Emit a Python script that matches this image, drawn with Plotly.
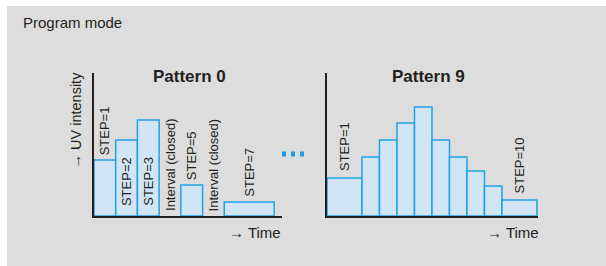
import plotly.graph_objects as go
import numpy as np

W, H = 606, 266

# ---- data ----
p0_labels = ["STEP=1", "STEP=2", "STEP=3", "Interval (closed)", "STEP=5", "Interval (closed)", "STEP=7"]
p0_durations = [1, 1, 1, 1, 1, 1, 2.3]
p0_intensity = [56, 76, 96, None, 31, None, 14]

p9_labels = ["STEP=1", "", "", "", "", "", "", "", "", "STEP=10"]
p9_durations = [2, 1, 1, 1, 1, 1, 1, 1, 1, 2]
p9_intensity = [38, 59, 76, 93, 109, 76, 59, 45, 30, 16]

FILL = "#d2e5f6"
EDGE = "#1fa3e6"
AXIS = "#231f20"
BG = "#dcdddc"
FONT = "Liberation Sans, Arial, sans-serif"


def px(x):
    return x / W


def py(y):
    return 1 - y / H


def centers(durs):
    d = np.array(durs, dtype=float)
    right = np.cumsum(d)
    return (right - d / 2).tolist()


fig = go.Figure()

c0 = centers(p0_durations)
c9 = centers(p9_durations)

fig.add_trace(go.Bar(x=c0, y=p0_intensity, width=p0_durations, base=0,
                     marker=dict(color=FILL, line=dict(color=EDGE, width=1.5)),
                     xaxis="x", yaxis="y", showlegend=False, hoverinfo="skip"))
fig.add_trace(go.Bar(x=c9, y=p9_intensity, width=p9_durations, base=0,
                     marker=dict(color=FILL, line=dict(color=EDGE, width=1.5)),
                     xaxis="x2", yaxis="y2", showlegend=False, hoverinfo="skip"))

ydom = [py(216), py(73)]
axis_common = dict(showline=True, linecolor=AXIS, linewidth=2, showgrid=False,
                   zeroline=False, showticklabels=False, ticks="", fixedrange=True)

fig.update_layout(
    width=W, height=H,
    margin=dict(l=0, r=0, t=0, b=0),
    paper_bgcolor="white",
    plot_bgcolor="rgba(0,0,0,0)",
    bargap=0,
    xaxis=dict(domain=[px(94), px(282)], range=[0, 8.66], anchor="y", **axis_common),
    yaxis=dict(domain=ydom, range=[0, 143], anchor="x", **axis_common),
    xaxis2=dict(domain=[px(327), px(538)], range=[0, 12.06], anchor="y2", **axis_common),
    yaxis2=dict(domain=ydom, range=[0, 143], anchor="x2", **axis_common),
    font=dict(family=FONT, color="#231f20"),
)

shapes = [dict(type="rect", xref="paper", yref="paper", x0=px(7), x1=1, y0=0, y1=py(6),
               fillcolor=BG, line=dict(width=0), layer="below")]
for dx in [284, 293, 302]:
    shapes.append(dict(type="rect", xref="paper", yref="paper",
                       x0=px(dx - 2), x1=px(dx + 2), y0=py(156.5), y1=py(151.5),
                       fillcolor="#1e9de0", line=dict(width=0)))
fig.update_layout(shapes=shapes)

ann = []
ann.append(dict(text="Program mode", xref="paper", yref="paper", x=px(21), y=py(23),
                xanchor="left", yanchor="middle", showarrow=False, font=dict(size=15)))
ann.append(dict(text="<b>Pattern 0</b>", xref="paper", yref="paper", x=px(189), y=py(76),
                xanchor="center", yanchor="middle", showarrow=False,
                font=dict(size=17)))
ann.append(dict(text="<b>Pattern 9</b>", xref="paper", yref="paper", x=px(428), y=py(76),
                xanchor="center", yanchor="middle", showarrow=False,
                font=dict(size=17)))
ann.append(dict(text="→ UV intensity", xref="paper", yref="paper", x=px(75.5), y=py(120),
                xanchor="center", yanchor="middle", textangle=-90, showarrow=False,
                font=dict(size=14.5)))
ann.append(dict(text="→ Time", xref="paper", yref="paper", x=px(283), y=py(232),
                xanchor="right", yanchor="middle", showarrow=False, font=dict(size=15)))
ann.append(dict(text="→ Time", xref="paper", yref="paper", x=px(541), y=py(232),
                xanchor="right", yanchor="middle", showarrow=False, font=dict(size=15)))

# pattern 0 step labels: above bars for STEP=1/5/7, inside otherwise
above0 = [True, False, False, False, True, False, True]
for lab, cx, val, ab in zip(p0_labels, c0, p0_intensity, above0):
    if ab:
        yv = (val or 0) + 3
    else:
        yv = 8 if val else 3
    ann.append(dict(text=lab, xref="x", yref="y", x=cx, y=yv, xanchor="center",
                    yanchor="bottom", textangle=-90, showarrow=False, font=dict(size=13)))

for lab, cx, val in zip(p9_labels, c9, p9_intensity):
    if lab:
        ann.append(dict(text=lab, xref="x2", yref="y2", x=cx, y=val + 5, xanchor="center",
                        yanchor="bottom", textangle=-90, showarrow=False, font=dict(size=13)))

fig.update_layout(annotations=ann)
fig.write_html("out.html", config={"displayModeBar": False, "staticPlot": True},
               post_script="document.body.style.margin='0px';")
